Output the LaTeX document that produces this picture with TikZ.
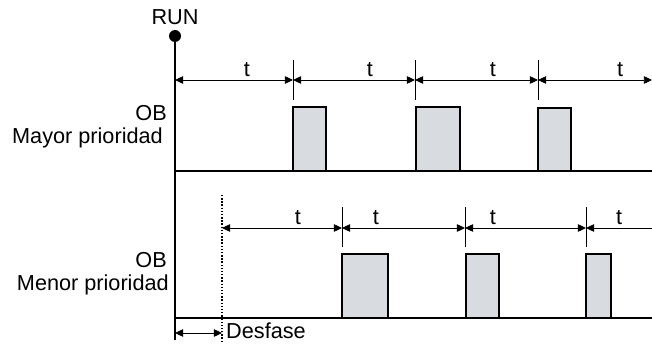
\documentclass[tikz,border=0pt]{standalone}
\usepackage{fontspec}
\setmainfont{Liberation Sans}
\usetikzlibrary{positioning,arrows.meta}
\definecolor{pulsegray}{RGB}{216,220,225}

\begin{document}
\begin{tikzpicture}[
  x=0.03cm, y=-0.03cm,
  font=\fontsize{18.5}{22}\selectfont,
  >={Triangle[length=7pt,width=6.5pt]},
  axisline/.style={draw=black, line width=1.8pt},
  period/.style={draw=black, line width=0.75pt},
  tickmark/.style={draw=black, line width=0.75pt},
  pulse/.style={draw=black, fill=pulsegray, line width=1.4pt},
  tlabel/.style={inner sep=0pt}
]
  \useasboundingbox (0,0) rectangle (652,345);
  % axis and start
  \node[inner sep=0pt] (run) at (175,17) {RUN};
  \node[circle, fill=black, inner sep=0pt, minimum size=12*0.03cm] (rundot) at (175,36) {};
  \coordinate (axisend) at (175,340);
  \draw[axisline] (rundot.center) -- (axisend);
  \coordinate (topbase0) at (175,171);
  \coordinate (topbase1) at (652,171);
  \coordinate (lowbase0) at (175,318);
  \coordinate (lowbase1) at (652,318);
  \draw[axisline] (topbase0) -- (topbase1);
  \draw[axisline] (lowbase0) -- (lowbase1);

  % labels left
  \node[anchor=east, inner sep=0pt] (obhigh) at (167,113) {OB};
  \node[anchor=east, inner sep=0pt] (prohigh) at (163,138) {Mayor prioridad};
  \node[anchor=east, inner sep=0pt] (oblow) at (167,260) {OB};
  \node[anchor=east, inner sep=0pt] (prolow) at (169,285) {Menor prioridad};

  % upper OB: periods
  \coordinate (a0) at (175,80);
  \coordinate (a1) at (293,80);
  \coordinate (a2) at (415,80);
  \coordinate (a3) at (538,80);
  \coordinate (a4) at (652,80);
  \draw[tickmark] (293,60) -- (293,100);
  \draw[tickmark] (415,60) -- (415,100);
  \draw[tickmark] (538,60) -- (538,100);
  \draw[period, <->] (a0) -- (a1);
  \draw[period, <->] (a1) -- (a2);
  \draw[period, <->] (a2) -- (a3);
  \draw[period, <->] (a3) -- (a4);
  \node[tlabel] (ta1) at (247,70) {t};
  \node[tlabel] (ta2) at (370,70) {t};
  \node[tlabel] (ta3) at (493,70) {t};
  \node[tlabel] (ta4) at (620,70) {t};
  \draw[pulse] (293,107) rectangle (326,171);
  \draw[pulse] (416,107) rectangle (460,171);
  \draw[pulse] (538,108) rectangle (571,171);

  % lower OB: offset and periods
  \coordinate (off0) at (222,195);
  \coordinate (off1) at (222,342);
  \draw[draw=black, line width=1pt, dash pattern=on 1.2pt off 1.5pt] (off0) -- (off1);
  \coordinate (b0) at (222,228);
  \coordinate (b1) at (342,228);
  \coordinate (b2) at (465,228);
  \coordinate (b3) at (586,228);
  \coordinate (b4) at (652,228);
  \draw[tickmark] (342,207) -- (342,247);
  \draw[tickmark] (465,207) -- (465,247);
  \draw[tickmark] (586,207) -- (586,247);
  \draw[period, <->] (b0) -- (b1);
  \draw[period, <->] (b1) -- (b2);
  \draw[period, <->] (b2) -- (b3);
  \draw[period, <-] (b3) -- (b4);
  \node[tlabel] (tb1) at (298,218) {t};
  \node[tlabel] (tb2) at (376,218) {t};
  \node[tlabel] (tb3) at (493,218) {t};
  \node[tlabel] (tb4) at (619,218) {t};
  \draw[pulse] (342,254) rectangle (388,318);
  \draw[pulse] (466,254) rectangle (499,318);
  \draw[pulse] (586,254) rectangle (611,318);

  % Desfase
  \coordinate (d0) at (175,333);
  \coordinate (d1) at (222,333);
  \draw[period, <->] (d0) -- (d1);
  \node[anchor=west, inner sep=0pt] (desfase) at (226,331) {Desfase};
\end{tikzpicture}
\end{document}
